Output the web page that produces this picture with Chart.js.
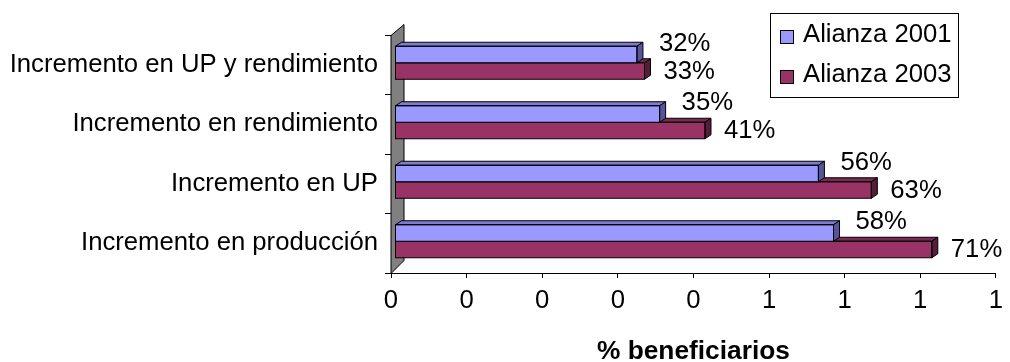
<!DOCTYPE html>
<html>
<head>
<meta charset="utf-8">
<script src="https://cdn.jsdelivr.net/npm/chart.js@4/dist/chart.umd.min.js"></script>
<style>
  html, body { margin: 0; padding: 0; background: #ffffff; }
  #wrap { width: 1010px; height: 362px; }
</style>
</head>
<body>
<div id="wrap"><canvas id="c" width="1010" height="362"></canvas></div>
<script>
const categories = ["Incremento en UP y rendimiento", "Incremento en rendimiento", "Incremento en UP", "Incremento en producción"];
const seriesNames = ["Alianza 2001", "Alianza 2003"];
const alianza2001 = [0.32, 0.35, 0.56, 0.58];
const alianza2003 = [0.33, 0.41, 0.63, 0.71];
const labels2001 = ["32%", "35%", "56%", "58%"];
const labels2003 = ["33%", "41%", "63%", "71%"];
const xTickLabels = ["0", "0", "0", "0", "0", "1", "1", "1", "1"];

const FONT = "'Liberation Sans', Arial, sans-serif";
const FS = 25.7;
const FRONT = ['#9999FF', '#993366'];
const TOPC = ['#7C7CD0', '#7A2952'];
const SIDEC = ['#55559A', '#561D3A'];
const SHIFT_X = 4, SHIFT_Y = -2;
const DX = 6, DY = 4;

function barGeom(el) {
  const p = el.getProps(['x', 'y', 'base', 'height'], true);
  return { left: Math.min(p.base, p.x), right: Math.max(p.base, p.x), top: p.y - p.height / 2, bottom: p.y + p.height / 2, cy: p.y };
}

const threeD = {
  id: 'threeD',
  beforeDatasetsDraw(chart) {
    const ctx = chart.ctx;
    const a = chart.chartArea;
    ctx.save();
    ctx.beginPath();
    ctx.moveTo(a.left, a.top + 0.5);
    ctx.lineTo(a.left + 13, a.top - 10.5);
    ctx.lineTo(a.left + 13, a.bottom - 12.5);
    ctx.lineTo(a.left, a.bottom + 0.5);
    ctx.closePath();
    ctx.fillStyle = '#808080';
    ctx.fill();
    ctx.strokeStyle = '#000';
    ctx.lineWidth = 1;
    ctx.stroke();
    ctx.restore();
    ctx.save();
    ctx.translate(SHIFT_X, SHIFT_Y);
  },
  afterDatasetDraw(chart, args) {
    const ctx = chart.ctx;
    const di = args.index;
    const meta = chart.getDatasetMeta(di);
    ctx.save();
    ctx.strokeStyle = '#000';
    ctx.lineWidth = 1;
    meta.data.forEach(el => {
      const g = barGeom(el);
      ctx.beginPath();
      ctx.moveTo(g.left, g.top);
      ctx.lineTo(g.left + DX, g.top - DY);
      ctx.lineTo(g.right + DX, g.top - DY);
      ctx.lineTo(g.right, g.top);
      ctx.closePath();
      ctx.fillStyle = TOPC[di];
      ctx.fill();
      ctx.stroke();
      ctx.beginPath();
      ctx.moveTo(g.right, g.top);
      ctx.lineTo(g.right + DX, g.top - DY);
      ctx.lineTo(g.right + DX, g.bottom - DY);
      ctx.lineTo(g.right, g.bottom);
      ctx.closePath();
      ctx.fillStyle = SIDEC[di];
      ctx.fill();
      ctx.stroke();
      ctx.strokeRect(g.left, g.top, g.right - g.left, g.bottom - g.top);
    });
    ctx.restore();
  },
  afterDatasetsDraw(chart) {
    const ctx = chart.ctx;
    ctx.restore();
    ctx.save();
    ctx.font = FS + 'px ' + FONT;
    ctx.fillStyle = '#000';
    ctx.textAlign = 'left';
    ctx.textBaseline = 'middle';
    const texts = [labels2001, labels2003];
    const offs = [{ x: 22, y: -11 }, { x: 19, y: 0.5 }];
    [0, 1].forEach(di => {
      chart.getDatasetMeta(di).data.forEach((el, i) => {
        const g = barGeom(el);
        ctx.fillText(texts[di][i], g.right + SHIFT_X + offs[di].x, g.cy + SHIFT_Y + offs[di].y);
      });
    });
    ctx.restore();
    ctx.save();
    ctx.strokeStyle = '#000';
    ctx.lineWidth = 1;
    ctx.strokeRect(770.5, 13.5, 188, 84);
    ctx.font = FS + 'px ' + FONT;
    ctx.textAlign = 'left';
    ctx.textBaseline = 'middle';
    seriesNames.forEach((name, i) => {
      const yy = 30 + i * 40;
      ctx.fillStyle = FRONT[i];
      ctx.fillRect(780.5, yy + 0.5, 13, 13);
      ctx.strokeRect(780.5, yy + 0.5, 13, 13);
      ctx.fillStyle = '#000';
      ctx.fillText(name, 803, yy + 4.5);
    });
    ctx.restore();
  }
};

new Chart(document.getElementById('c'), {
  type: 'bar',
  data: {
    labels: categories,
    datasets: [
      { label: seriesNames[0], data: alianza2001, backgroundColor: FRONT[0], borderColor: '#000', borderWidth: 0, categoryPercentage: 0.555, barPercentage: 1, clip: false },
      { label: seriesNames[1], data: alianza2003, backgroundColor: FRONT[1], borderColor: '#000', borderWidth: 0, categoryPercentage: 0.555, barPercentage: 1, clip: false }
    ]
  },
  options: {
    indexAxis: 'y',
    responsive: false,
    animation: false,
    layout: { padding: { left: 0, right: 10, top: 35, bottom: 0 } },
    plugins: { legend: { display: false }, tooltip: { enabled: false } },
    scales: {
      x: {
        min: 0, max: 0.8,
        ticks: {
          stepSize: 0.1, autoSkip: false, maxRotation: 0,
          callback: (v, i) => xTickLabels[i],
          color: '#000', font: { family: FONT, size: FS }, padding: 7
        },
        grid: { drawOnChartArea: false, tickLength: 5, color: '#000' },
        border: { color: '#000' },
        title: { display: true, text: '% beneficiarios', color: '#000', font: { family: FONT, size: 26.3, weight: 'bold', lineHeight: 0.8 }, padding: 0 },
        afterFit: s => { s.height = 89; }
      },
      y: {
        ticks: { color: '#000', font: { family: FONT, size: FS }, padding: 7, autoSkip: false },
        grid: { drawOnChartArea: false, tickLength: 6, color: '#000', offset: true },
        border: { color: '#000' },
        afterFit: s => { s.width = 391; }
      }
    }
  },
  plugins: [threeD]
});
</script>
</body>
</html>
